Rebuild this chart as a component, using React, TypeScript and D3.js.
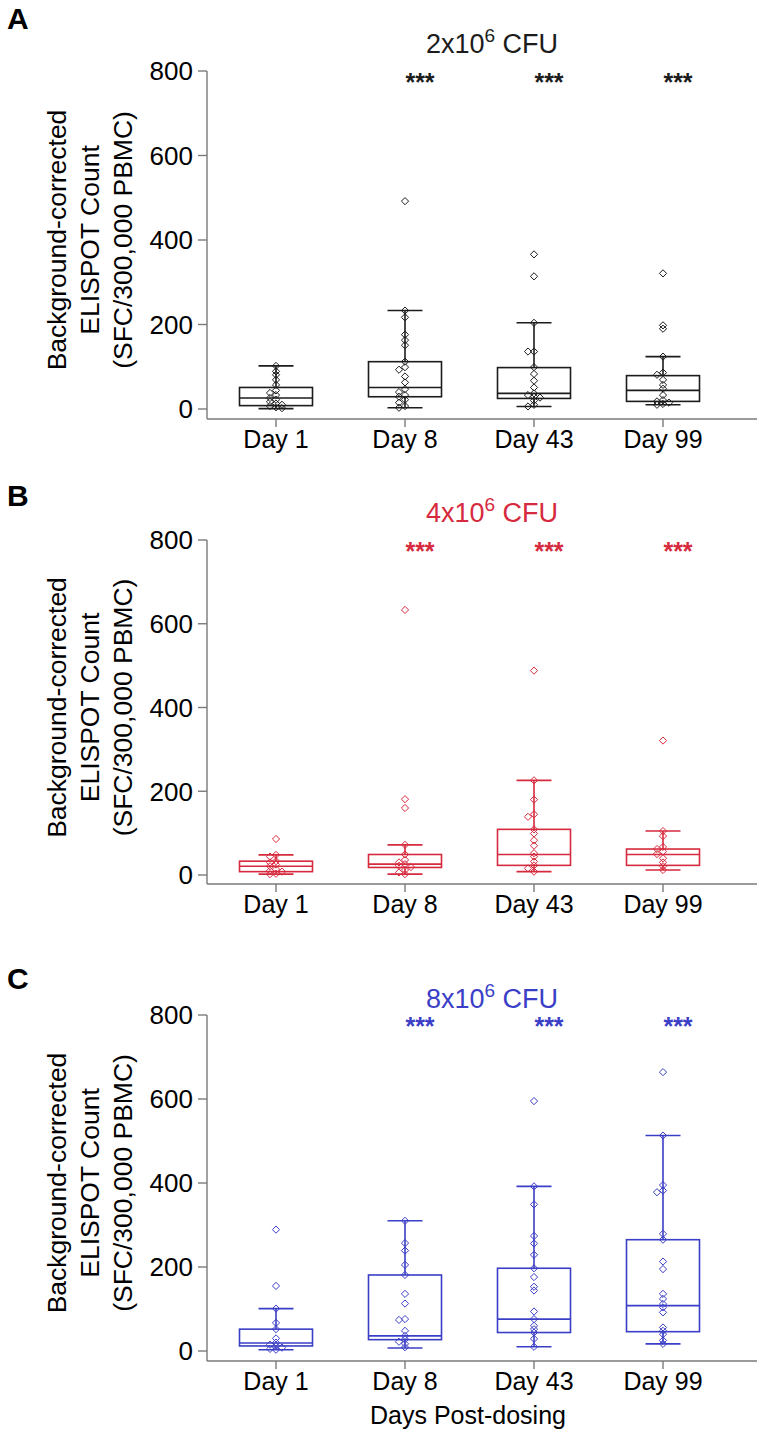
import React from 'react';
import * as d3 from 'd3';

const days = ['Day 1', 'Day 8', 'Day 43', 'Day 99'];
const yTicks = [0, 200, 400, 600, 800];
const doses = ['2x10', '4x10', '8x10'];
const panelLabels = ['A', 'B', 'C'];
const sigMarks = ['', '***', '***', '***'];
const yLabelLines = ['Background-corrected', 'ELISPOT Count', '(SFC/300,000 PBMC)'];
const xTitle = 'Days Post-dosing';

// individual subject values per day, panel A (2x10^6 CFU)
const pointsA = [
  [102, 89, 81, 69, 57, 44, 38, 33, 26, 22, 17, 13, 10, 7, 4, 2],
  [492, 233, 217, 176, 163, 151, 112, 99, 93, 77, 63, 47, 40, 33, 29, 22, 15, 7, 3],
  [366, 314, 204, 136, 136, 99, 83, 67, 51, 37, 33, 29, 27, 20, 10, 6],
  [321, 198, 190, 124, 86, 81, 69, 57, 48, 33, 21, 18, 15, 12, 10],
];
// [whisker low, q1, median, q3, whisker high]
const statsA = [
  [1, 8, 26, 51, 102],
  [3, 29, 51, 112, 233],
  [6, 25, 37, 98, 204],
  [10, 18, 44, 79, 124],
];

const pointsB = [
  [86, 48, 44, 33, 30, 25, 21, 14, 10, 8, 3, 2],
  [633, 181, 160, 72, 49, 36, 30, 26, 22, 19, 12, 6, 2],
  [488, 226, 180, 145, 139, 109, 99, 83, 70, 52, 44, 32, 23, 16, 8],
  [321, 105, 93, 67, 62, 56, 50, 40, 30, 21, 12],
];
const statsB = [
  [2, 8, 21, 33, 48],
  [2, 18, 26, 49, 72],
  [8, 23, 49, 109, 226],
  [12, 23, 49, 62, 105],
];

const pointsC = [
  [289, 155, 101, 67, 52, 30, 20, 15, 12, 8, 5, 3],
  [310, 257, 239, 205, 181, 136, 113, 76, 74, 48, 36, 28, 22, 17, 9],
  [595, 392, 349, 274, 256, 229, 197, 176, 153, 144, 94, 76, 60, 52, 44, 29, 10],
  [664, 513, 395, 382, 378, 279, 265, 213, 195, 136, 124, 112, 104, 92, 56, 48, 40, 25, 17],
];
const statsC = [
  [3, 12, 19, 52, 101],
  [7, 27, 36, 181, 310],
  [10, 44, 76, 197, 392],
  [17, 46, 108, 265, 513],
];

const colors = ['#1c1c1c', '#d62a3e', '#3b3ec6'];
const panelPoints = [pointsA, pointsB, pointsC];
const panelStats = [statsA, statsB, statsC];

const layout = [
  { top: 71, zero: 409, axis: 419, labelY: 29, titleY: 53 },
  { top: 540, zero: 875, axis: 884, labelY: 506, titleY: 522 },
  { top: 1015, zero: 1351, axis: 1361, labelY: 989, titleY: 1008 },
];

const FONT = 'Liberation Sans, Arial, Helvetica, sans-serif';
const AXIS_X = 207;
const AXIS_END = 757;
const BOX_W = 73;
const CAP_W = 35;
const DIAMOND = 'M0,-3.6L3.6,0L0,3.6L-3.6,0Z';

function dodge(values: number[], y: (v: number) => number) {
  const placed: { v: number; dx: number; py: number }[] = [];
  const sorted = [...values].sort((a, b) => b - a);
  const offsets = [0, -6, 6, -12, 12];
  for (const v of sorted) {
    const py = y(v);
    let chosen = 0;
    for (const o of offsets) {
      const ok = placed.every((p) => Math.hypot(p.dx - o, p.py - py) >= 3.2);
      if (ok) { chosen = o; break; }
    }
    placed.push({ v, dx: chosen, py });
  }
  return placed;
}

function Panel({ idx }: { idx: number }) {
  const L = layout[idx];
  const color = colors[idx];
  const y = d3.scaleLinear().domain([0, 800]).range([L.zero, L.top]);
  const x = d3.scalePoint<string>().domain(days).range([276, 663]);
  const midY = (L.zero + L.top) / 2;
  const lineXs = [66, 99, 132];
  return (
    <g>
      <text x={7} y={L.labelY} fontFamily={FONT} fontWeight="bold" fontSize={30} fill="#000">
        {panelLabels[idx]}
      </text>
      <text x={492} y={L.titleY} textAnchor="middle" fontFamily={FONT} fontSize={27} fill={color}>
        {doses[idx]}
        <tspan dy={-11} fontSize={19}>6</tspan>
        <tspan dy={11} fontSize={27}> CFU</tspan>
      </text>
      {yLabelLines.map((t, i) => (
        <text
          key={t}
          transform={`translate(${lineXs[i]},${midY}) rotate(-90)`}
          textAnchor="middle"
          fontFamily={FONT}
          fontSize={26.5}
          fill="#000"
        >
          {t}
        </text>
      ))}
      {/* y axis */}
      <line x1={AXIS_X} x2={AXIS_X} y1={y(800)} y2={L.axis} stroke="#7a7a7a" strokeWidth={1.4} />
      {yTicks.map((t) => (
        <g key={t}>
          <line x1={AXIS_X - 9} x2={AXIS_X} y1={y(t)} y2={y(t)} stroke="#7a7a7a" strokeWidth={1.4} />
          <text x={AXIS_X - 14} y={y(t)} dy="0.36em" textAnchor="end" fontFamily={FONT} fontSize={26} fill="#000">
            {t}
          </text>
        </g>
      ))}
      {/* x axis */}
      <line x1={AXIS_X} x2={AXIS_END} y1={L.axis} y2={L.axis} stroke="#7a7a7a" strokeWidth={1.4} />
      {days.map((d) => (
        <g key={d}>
          <line x1={x(d)} x2={x(d)} y1={L.axis} y2={L.axis + 8} stroke="#7a7a7a" strokeWidth={1.4} />
          <text x={x(d)} y={L.axis + 29} textAnchor="middle" fontFamily={FONT} fontSize={25} fill="#000">
            {d}
          </text>
        </g>
      ))}
      {/* significance */}
      {days.map((d, i) =>
        sigMarks[i] ? (
          <text key={'s' + d} x={(x(d) as number) + 15} y={y(800) + 20} textAnchor="middle" fontFamily={FONT} fontWeight="bold" fontSize={25} fill={color}>
            {sigMarks[i]}
          </text>
        ) : null
      )}
      {/* boxes */}
      {days.map((d, i) => {
        const [lo, q1, med, q3, hi] = panelStats[idx][i];
        const cx = x(d) as number;
        return (
          <g key={'b' + d} stroke={color} fill="none" strokeWidth={1.6}>
            <rect x={cx - BOX_W / 2} y={y(q3)} width={BOX_W} height={y(q1) - y(q3)} />
            <line x1={cx - BOX_W / 2} x2={cx + BOX_W / 2} y1={y(med)} y2={y(med)} />
            <line x1={cx} x2={cx} y1={y(q3)} y2={y(hi)} />
            <line x1={cx} x2={cx} y1={y(q1)} y2={y(lo)} />
            <line x1={cx - CAP_W / 2} x2={cx + CAP_W / 2} y1={y(hi)} y2={y(hi)} />
            <line x1={cx - CAP_W / 2} x2={cx + CAP_W / 2} y1={y(lo)} y2={y(lo)} />
          </g>
        );
      })}
      {/* points */}
      {days.map((d, i) => {
        const cx = x(d) as number;
        return dodge(panelPoints[idx][i], y).map((p, j) => (
          <path
            key={d + j}
            d={DIAMOND}
            transform={`translate(${cx + p.dx},${p.py})`}
            fill="none"
            stroke={color}
            strokeWidth={1}
          />
        ));
      })}
    </g>
  );
}

export default function App() {
  return (
    <svg
      width={760}
      height={1444}
      viewBox="0 0 760 1444"
      style={{ position: 'absolute', left: 0, top: 0, background: '#fff' }}
    >
      <rect width={760} height={1444} fill="#fff" />
      {[0, 1, 2].map((i) => (
        <Panel key={i} idx={i} />
      ))}
      <text x={468} y={1424} textAnchor="middle" fontFamily={FONT} fontSize={25} fill="#000">
        {xTitle}
      </text>
    </svg>
  );
}
